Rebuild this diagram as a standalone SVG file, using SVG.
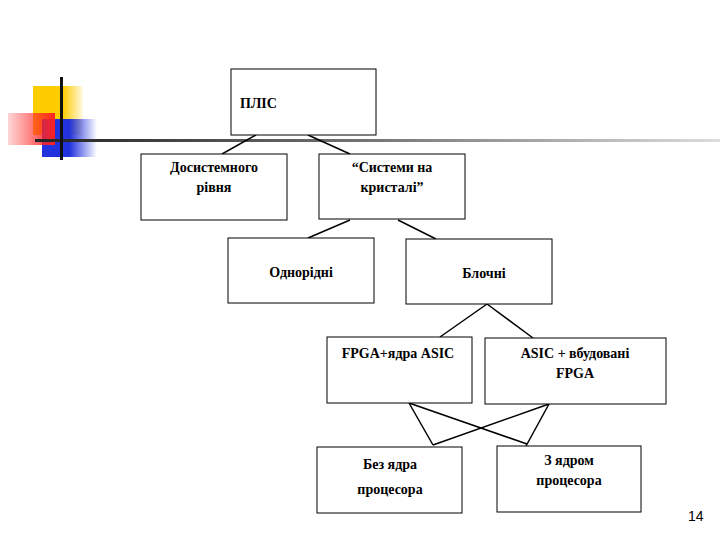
<svg xmlns="http://www.w3.org/2000/svg" width="720" height="540" viewBox="0 0 720 540">
<defs>
<linearGradient id="hl" x1="0" x2="1" y1="0" y2="0"><stop offset="0" stop-color="#222"/><stop offset="0.5" stop-color="#777"/><stop offset="1" stop-color="#ddd"/></linearGradient>
<linearGradient id="red" x1="0" x2="1"><stop offset="0" stop-color="#ff3030" stop-opacity="0.2"/><stop offset="1" stop-color="#ff2020"/></linearGradient>
<linearGradient id="blue" x1="0" x2="1"><stop offset="0.5" stop-color="#2233dd"/><stop offset="1" stop-color="#2233dd" stop-opacity="0"/></linearGradient>
<linearGradient id="yel" x1="0" x2="1"><stop offset="0.6" stop-color="#ffcc00"/><stop offset="1" stop-color="#ffcc00" stop-opacity="0.1"/></linearGradient>
</defs>
<style>
.b{fill:#fff;stroke:#000;stroke-width:1}
.t{font-family:'Liberation Serif','DejaVu Serif',serif;font-size:14px;font-weight:bold;fill:#000;text-anchor:middle}
.c line{stroke:#000;stroke-width:1.5}
</style>
<rect width="720" height="540" fill="#fff"/>
<g id="decor">
<rect x="33" y="86" width="50" height="49" fill="url(#yel)"/>
<rect x="42" y="119" width="55" height="38" fill="url(#blue)"/>
<rect x="8" y="113" width="47" height="32" fill="url(#red)"/>
<rect x="35" y="139" width="685" height="3" fill="url(#hl)"/>
<rect x="60" y="77" width="3" height="83" fill="#111"/>
</g>
<g class="c" id="connectors">
<line x1="256" y1="135" x2="222" y2="154"/>
<line x1="308" y1="135" x2="350" y2="154"/>
<line x1="350" y1="220" x2="308" y2="238"/>
<line x1="398" y1="220" x2="436" y2="239"/>
<line x1="487" y1="304" x2="440" y2="337"/>
<line x1="487" y1="304" x2="533" y2="338"/>
<line x1="409" y1="403" x2="433" y2="445"/>
<line x1="409" y1="403" x2="527" y2="444"/>
<line x1="549" y1="404" x2="526" y2="446"/>
<line x1="549" y1="404" x2="433" y2="445"/>
</g>
<g id="plis"><rect class="b" x="231" y="69" width="145" height="66"/><text class="t" x="240" y="108" style="text-anchor:start">ПЛІС</text></g>
<g id="dosyst"><rect class="b" x="141" y="154" width="146" height="66"/><text class="t" x="214" y="172">Досистемного</text><text class="t" x="214" y="192">рівня</text></g>
<g id="soc"><rect class="b" x="319" y="154" width="146" height="65"/><text class="t" x="392" y="172">“Системи на</text><text class="t" x="392" y="192">кристалі”</text></g>
<g id="odnor"><rect class="b" x="228" y="238" width="146" height="65"/><text class="t" x="301" y="277">Однорідні</text></g>
<g id="bloch"><rect class="b" x="406" y="239" width="146" height="65"/><text class="t" x="484" y="278">Блочні</text></g>
<g id="fpga"><rect class="b" x="327" y="337" width="145" height="66"/><text class="t" x="398" y="358">FPGA+ядра ASIC</text></g>
<g id="asic"><rect class="b" x="485" y="338" width="181" height="66"/><text class="t" x="575" y="358">ASIC + вбудовані</text><text class="t" x="575" y="378">FPGA</text></g>
<g id="bez"><rect class="b" x="317" y="447" width="145" height="66"/><text class="t" x="390" y="469">Без ядра</text><text class="t" x="390" y="494">процесора</text></g>
<g id="zyadr"><rect class="b" x="497" y="446" width="144" height="66"/><text class="t" x="569" y="465">З ядром</text><text class="t" x="569" y="485">процесора</text></g>
<text x="688" y="521" font-family="Liberation Sans,sans-serif" font-size="14" fill="#000">14</text>
</svg>
